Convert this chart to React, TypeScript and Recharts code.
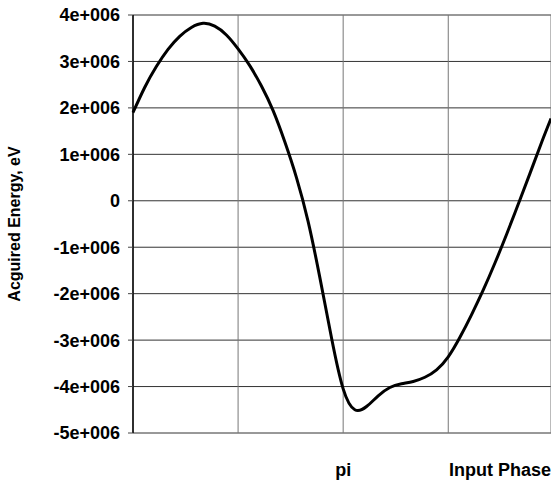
import { LineChart, Line, XAxis, YAxis, CartesianGrid, Label } from 'recharts'

// input phase in degrees (pi = 180)
const phase = [0, 10, 20, 30, 40, 50, 60, 70, 80, 90, 100, 110, 120, 130, 140, 150, 160, 170, 180, 190, 200, 210, 220, 230, 240, 250, 260, 270, 280, 290, 300, 310, 320, 330, 340, 350, 358]
// acquired energy, millions of eV
const energy = [1.9, 2.44, 2.89, 3.26, 3.54, 3.73, 3.82, 3.76, 3.57, 3.27, 2.91, 2.47, 1.94, 1.27, 0.5, -0.45, -1.65, -2.95, -4.05, -4.5, -4.43, -4.2, -4.02, -3.94, -3.89, -3.8, -3.64, -3.36, -2.94, -2.45, -1.92, -1.34, -0.72, -0.07, 0.59, 1.26, 1.77]

const yTicks = [-5e6, -4e6, -3e6, -2e6, -1e6, 0, 1e6, 2e6, 3e6, 4e6]
const xTicks = [0, 90, 180, 270]
const xTickLabels: Record<number, string> = { 180: 'pi' }

const data = phase.map((p, i) => ({ phase: p, energy: energy[i] * 1e6 }))

const narrow = '"Liberation Sans Narrow", "Arial Narrow", "Liberation Sans", Arial, sans-serif'

function fmtY(v: number) {
  if (v === 0) return '0'
  return `${v / 1e6}e+006`
}

export default function App() {
  return (
    <div style={{ position: 'absolute', left: 0, top: 0, background: '#fff' }}>
      <LineChart width={551} height={482} data={data} margin={{ top: 15, right: 0, bottom: 0, left: 0 }}>
        <CartesianGrid stroke="#333" strokeWidth={1} vertical={false} />
        <CartesianGrid stroke="#777" strokeWidth={1} horizontal={false} />
        <XAxis
          dataKey="phase"
          type="number"
          domain={[0, 358]}
          ticks={xTicks}
          tickFormatter={(v: number) => xTickLabels[v] ?? ''}
          axisLine={false}
          tickLine={false}
          tickSize={0}
          tickMargin={30}
          height={49}
          tick={{ fill: '#000', fontFamily: narrow, fontWeight: 'bold', fontSize: 18 }}
        >
          <Label
            content={(props: any) => {
              const vb = props.viewBox
              return (
                <text
                  x={vb.x + vb.width}
                  y={vb.y + 43}
                  textAnchor="end"
                  fill="#000"
                  fontFamily={narrow}
                  fontWeight="bold"
                  fontSize={18}
                >
                  Input Phase
                </text>
              )
            }}
          />
        </XAxis>
        <YAxis
          type="number"
          domain={[-5e6, 4e6]}
          ticks={yTicks}
          tickFormatter={fmtY}
          width={133}
          axisLine={{ stroke: '#000', strokeWidth: 1.5 }}
          tickLine={{ stroke: '#444' }}
          tickSize={5}
          tickMargin={8}
          tick={{ fill: '#000', fontFamily: narrow, fontWeight: 'bold', fontSize: 18 }}
        >
          <Label
            content={(props: any) => {
              const vb = props.viewBox
              const cx = 20
              const cy = vb.y + vb.height / 2
              return (
                <text
                  x={cx}
                  y={cy}
                  transform={`rotate(-90 ${cx} ${cy})`}
                  textAnchor="middle"
                  fill="#000"
                  fontFamily='"Liberation Sans", Arial, sans-serif'
                  fontWeight="bold"
                  fontSize={16}
                >
                  Acguired Energy, eV
                </text>
              )
            }}
          />
        </YAxis>
        <Line
          type="natural"
          dataKey="energy"
          stroke="#000"
          strokeWidth={3}
          dot={false}
          isAnimationActive={false}
        />
      </LineChart>
    </div>
  )
}
